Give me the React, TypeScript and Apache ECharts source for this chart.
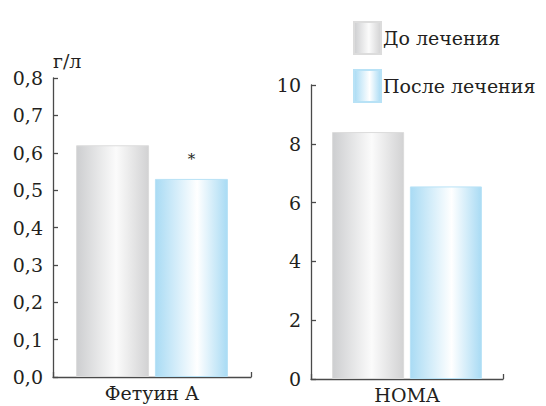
import React, { useEffect, useRef } from "react";
import * as echarts from "echarts";

const seriesNames = ["До лечения", "После лечения"];
const categoriesLeft = ["Фетуин А"];
const categoriesRight = ["HOMA"];
const beforeValues = [0.62, 8.4];
const afterValues = [0.53, 6.55];
const leftTicks = { min: 0, max: 0.8, interval: 0.1 };
const rightTicks = { min: 0, max: 10, interval: 2 };
const unitLabel = "г/л";
const significanceMark = "*";

const FONT = "DejaVu Serif";
const FS = 19;
const TEXT = "#231f20";
const AXIS = "#4a4a4a";

const greyGrad = () =>
  new echarts.graphic.LinearGradient(0, 0, 1, 0, [
    { offset: 0, color: "#cdced0" },
    { offset: 0.55, color: "#fbfbfb" },
    { offset: 1, color: "#d2d2d3" },
  ]);
const blueGrad = () =>
  new echarts.graphic.LinearGradient(0, 0, 1, 0, [
    { offset: 0, color: "#a9dbf4" },
    { offset: 0.58, color: "#ffffff" },
    { offset: 1, color: "#a9dbf4" },
  ]);

export default function App() {
  const ref = useRef<HTMLDivElement>(null);
  useEffect(() => {
    if (!ref.current) return;
    const chart = echarts.init(ref.current, null, { renderer: "svg" });
    const axisLine = { show: true, lineStyle: { color: AXIS, width: 1.3 } };
    const axisTick = { show: true, inside: true, length: 5, lineStyle: { color: AXIS, width: 1.3 } };
    const axisLabel = { color: TEXT, fontFamily: FONT, fontSize: FS };
    chart.setOption({
      animation: false,
      backgroundColor: "#ffffff",
      textStyle: { fontFamily: FONT, fontSize: FS },
      legend: {
        orient: "vertical",
        left: 348,
        top: 16,
        itemWidth: 27,
        itemHeight: 32,
        itemGap: 14,
        icon: "rect",
        data: seriesNames,
        textStyle: { color: TEXT, fontFamily: FONT, fontSize: FS, padding: [0, 0, 0, -3] },
        selectedMode: false,
      },
      grid: [
        { left: 53, right: 295, top: 78, bottom: 29 },
        { left: 311, right: 43, top: 85, bottom: 27 },
      ],
      xAxis: [
        {
          type: "category",
          gridIndex: 0,
          data: categoriesLeft,
          axisLine,
          axisTick,
          axisLabel: { ...axisLabel, margin: 6 },
        },
        {
          type: "category",
          gridIndex: 1,
          data: categoriesRight,
          axisLine,
          axisTick,
          axisLabel: { ...axisLabel, margin: 6 },
        },
      ],
      yAxis: [
        {
          type: "value",
          gridIndex: 0,
          ...leftTicks,
          name: unitLabel,
          nameLocation: "end",
          nameGap: 8,
          nameTextStyle: { color: TEXT, fontFamily: FONT, fontSize: FS, align: "left", verticalAlign: "bottom" },
          axisLine,
          axisTick,
          splitLine: { show: false },
          axisLabel: {
            ...axisLabel,
            margin: 10,
            formatter: (v: number) => v.toFixed(1).replace(".", ","),
          },
        },
        {
          type: "value",
          gridIndex: 1,
          ...rightTicks,
          axisLine,
          axisTick,
          splitLine: { show: false },
          axisLabel: { ...axisLabel, margin: 10 },
        },
      ],
      series: [
        {
          name: seriesNames[0],
          type: "bar",
          xAxisIndex: 0,
          yAxisIndex: 0,
          data: [beforeValues[0]],
          barWidth: 73,
          barGap: "8%",
          itemStyle: { color: greyGrad(), borderColor: "#dcdcdc", borderWidth: 1 },
        },
        {
          name: seriesNames[1],
          type: "bar",
          xAxisIndex: 0,
          yAxisIndex: 0,
          data: [afterValues[0]],
          barWidth: 73,
          barGap: "8%",
          itemStyle: { color: blueGrad(), borderColor: "#b8e2f6", borderWidth: 1 },
          label: {
            show: true,
            position: "top",
            distance: 12,
            formatter: significanceMark,
            color: TEXT,
            fontFamily: FONT,
            fontSize: 15,
          },
        },
        {
          name: seriesNames[0],
          type: "bar",
          xAxisIndex: 1,
          yAxisIndex: 1,
          data: [beforeValues[1]],
          barWidth: 72,
          barGap: "8%",
          itemStyle: { color: greyGrad(), borderColor: "#dcdcdc", borderWidth: 1 },
        },
        {
          name: seriesNames[1],
          type: "bar",
          xAxisIndex: 1,
          yAxisIndex: 1,
          data: [afterValues[1]],
          barWidth: 72,
          barGap: "8%",
          itemStyle: { color: blueGrad(), borderColor: "#b8e2f6", borderWidth: 1 },
        },
      ],
    });
    return () => chart.dispose();
  }, []);
  return <div ref={ref} style={{ width: 546, height: 406, position: "absolute", left: 0, top: 0 }} />;
}
